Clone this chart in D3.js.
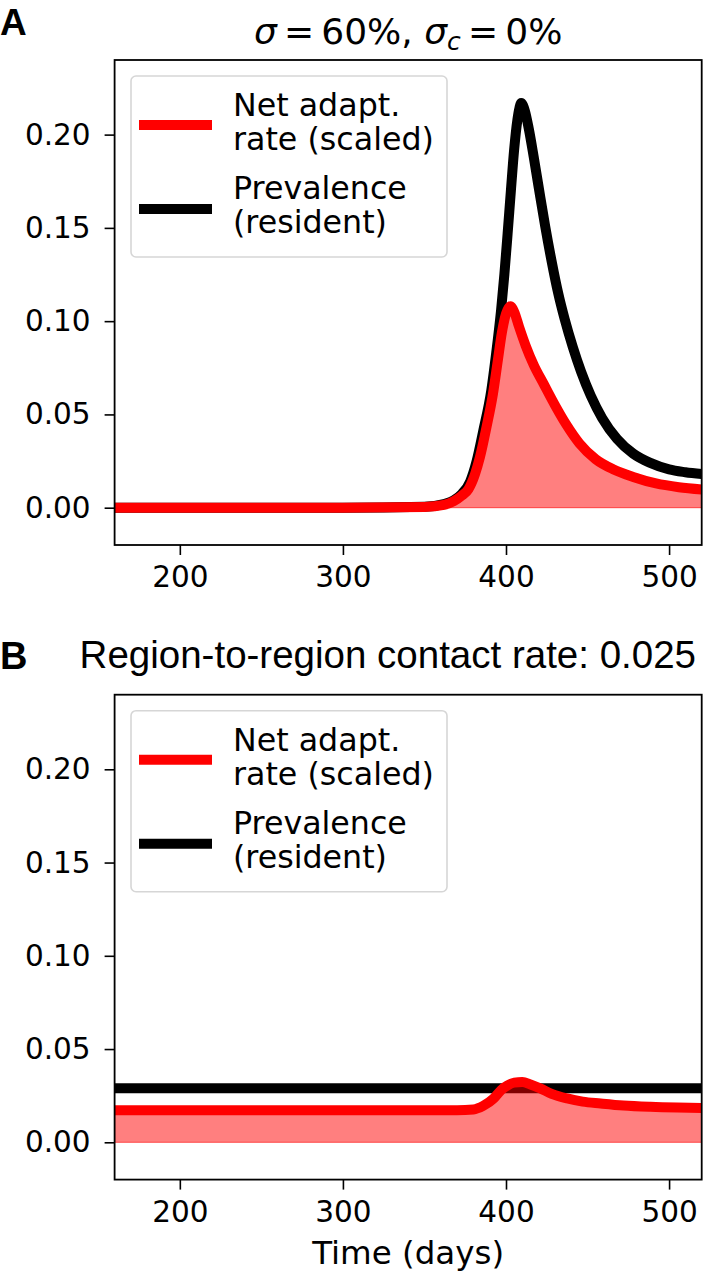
<!DOCTYPE html>
<html>
<head>
<meta charset="utf-8">
<script src="https://cdn.jsdelivr.net/npm/d3@7"></script>
<style>
  body { margin: 0; background: #fff; }
  text { fill: #000; }
</style>
</head>
<body>
<div class="chart"></div>
<script>
// panel A: sigma = 60%, sigma_c = 0%
var daysNetA = [160, 300, 350, 362, 368, 373, 377, 381, 384, 388, 392, 395, 397.5, 400, 401.5, 402.7, 405, 408, 412, 417, 423, 430, 437, 445, 455, 466, 478, 492, 506, 520];
var netA = [0, 0, 0.0004, 0.0015, 0.0035, 0.0065, 0.010, 0.018, 0.027, 0.043, 0.061, 0.079, 0.094, 0.104, 0.107, 0.108, 0.105, 0.097, 0.087, 0.0765, 0.0665, 0.055, 0.0445, 0.0345, 0.026, 0.0205, 0.0165, 0.013, 0.011, 0.0098];
var daysPrevA = [160, 300, 350, 362, 368, 373, 378, 382, 386, 391, 394, 397, 399, 401, 403, 405, 407, 408.3, 409.3, 411.5, 414, 417, 420, 424, 428, 432, 436, 441, 446, 452, 459, 468, 478, 488.5, 500, 510, 520];
var prevA = [0, 0, 0.0005, 0.002, 0.004, 0.0075, 0.014, 0.025, 0.041, 0.063, 0.083, 0.106, 0.125, 0.147, 0.170, 0.192, 0.208, 0.2145, 0.217, 0.213, 0.203, 0.188, 0.172, 0.151, 0.132, 0.115, 0.101, 0.086, 0.073, 0.060, 0.048, 0.037, 0.029, 0.024, 0.0205, 0.019, 0.018];

// panel B: region-to-region contact rate 0.025
var daysNetB = [160, 370, 380, 386, 392.5, 397, 401, 405, 410, 415, 421, 428, 437.5, 447, 458, 472, 488.5, 505, 520];
var netB = [0.0172, 0.0172, 0.0176, 0.0195, 0.0235, 0.028, 0.0305, 0.032, 0.0323, 0.031, 0.0289, 0.026, 0.0235, 0.0218, 0.0208, 0.0197, 0.019, 0.0186, 0.0184];
var daysPrevB = [160, 300, 400, 520];
var prevB = [0.029, 0.029, 0.029, 0.029];

var xTicks = [200, 300, 400, 500];
var yTicks = [0, 0.05, 0.10, 0.15, 0.20];
var legendLabels = [["Net adapt.", "rate (scaled)"], ["Prevalence", "(resident)"]];

var W = 704, H = 1279;
var left = 114.6, right = 701.7;

var svg = d3.select(".chart").append("svg")
    .attr("width", W)
    .attr("height", H)
    .style("font-family", "'DejaVu Sans', sans-serif");

function zip(xs, ys) {
    return xs.map(function (d, i) { return {day: d, value: ys[i]}; });
}

function drawPanel(top, bottom, id, net, prev) {
    var x = d3.scaleLinear().domain([160, 520]).range([left, right]);
    var y = d3.scaleLinear().domain([-0.02, 0.24]).range([bottom, top]);

    svg.append("clipPath").attr("id", id)
        .append("rect")
        .attr("x", left).attr("y", top)
        .attr("width", right - left).attr("height", bottom - top);

    var plot = svg.append("g").attr("clip-path", "url(#" + id + ")");

    var line = d3.line()
        .x(function (d) { return x(d.day); })
        .y(function (d) { return y(d.value); })
        .curve(d3.curveMonotoneX);

    var area = d3.area()
        .x(function (d) { return x(d.day); })
        .y0(y(0))
        .y1(function (d) { return y(d.value); })
        .curve(d3.curveMonotoneX);

    // prevalence first, then net rate, then the fill on top
    plot.append("path")
        .datum(prev)
        .attr("d", line)
        .attr("fill", "none")
        .attr("stroke", "#000")
        .attr("stroke-width", 10)
        .attr("stroke-linejoin", "round");

    plot.append("path")
        .datum(net)
        .attr("d", line)
        .attr("fill", "none")
        .attr("stroke", "#ff0000")
        .attr("stroke-width", 10)
        .attr("stroke-linejoin", "round");

    plot.append("path")
        .datum(net)
        .attr("d", area)
        .attr("fill", "#ff0000")
        .attr("fill-opacity", 0.5)
        .attr("stroke", "#ff0000")
        .attr("stroke-opacity", 0.5)
        .attr("stroke-width", 1.2);

    // axes
    var xAxis = svg.append("g")
        .attr("transform", "translate(0," + bottom + ")")
        .call(d3.axisBottom(x).tickValues(xTicks).tickSize(10).tickPadding(11).tickFormat(d3.format("d")));
    var yAxis = svg.append("g")
        .attr("transform", "translate(" + left + ",0)")
        .call(d3.axisLeft(y).tickValues(yTicks).tickSize(10).tickPadding(14).tickFormat(d3.format(".2f")));

    [xAxis, yAxis].forEach(function (a) {
        a.select(".domain").remove();
        a.selectAll(".tick line").attr("stroke", "#000").attr("stroke-width", 1.6);
        a.selectAll(".tick text")
            .style("font-family", "'DejaVu Sans'")
            .style("font-size", "29.5px")
            .attr("fill", "#000");
    });

    svg.append("rect")
        .attr("x", left).attr("y", top)
        .attr("width", right - left).attr("height", bottom - top)
        .attr("fill", "none")
        .attr("stroke", "#000")
        .attr("stroke-width", 1.8);

    // legend
    var lg = svg.append("g").attr("transform", "translate(131," + (top + 16) + ")");
    lg.append("rect")
        .attr("width", 316).attr("height", 181)
        .attr("rx", 5)
        .attr("fill", "#fff").attr("fill-opacity", 0.8)
        .attr("stroke", "#d6d6d6").attr("stroke-width", 1.6);

    var colors = ["#ff0000", "#000"];
    var lineY = [49, 133];
    var textY = [[40, 74], [123, 157]];
    legendLabels.forEach(function (lab, i) {
        lg.append("line")
            .attr("x1", 8).attr("x2", 81)
            .attr("y1", lineY[i]).attr("y2", lineY[i])
            .attr("stroke", colors[i])
            .attr("stroke-width", 10);
        lab.forEach(function (t, j) {
            lg.append("text")
                .attr("x", 102).attr("y", textY[i][j])
                .style("font-size", "31.7px")
                .text(t);
        });
    });
}

drawPanel(60, 545, "clipA", zip(daysNetA, netA), zip(daysPrevA, prevA));
drawPanel(694.7, 1179.6, "clipB", zip(daysNetB, netB), zip(daysPrevB, prevB));

// titles and panel letters
var tA = svg.append("text")
    .attr("x", (left + right) / 2).attr("y", 44)
    .attr("text-anchor", "middle")
    .style("font-size", "36px");
tA.append("tspan").style("font-style", "italic").text("σ");
tA.append("tspan").text("\u2009=\u200960%, ");
tA.append("tspan").style("font-style", "italic").text("σ");
tA.append("tspan").style("font-style", "italic").style("font-size", "25px").attr("dy", 6).text("c");
tA.append("tspan").attr("dy", -6).text("\u2009=\u20090%");

svg.append("text")
    .attr("x", 696).attr("y", 668)
    .attr("text-anchor", "end")
    .style("font-family", "'Liberation Sans'")
    .style("font-size", "38.5px")
    .text("Region-to-region contact rate: 0.025");

svg.append("text")
    .attr("x", 0).attr("y", 35)
    .style("font-family", "'Liberation Sans'")
    .style("font-weight", "bold")
    .style("font-size", "37px")
    .text("A");

svg.append("text")
    .attr("x", 0).attr("y", 669)
    .style("font-family", "'Liberation Sans'")
    .style("font-weight", "bold")
    .style("font-size", "38px")
    .text("B");

svg.append("text")
    .attr("x", (left + right) / 2).attr("y", 1264)
    .attr("text-anchor", "middle")
    .style("font-size", "32.5px")
    .text("Time (days)");
</script>
</body>
</html>
